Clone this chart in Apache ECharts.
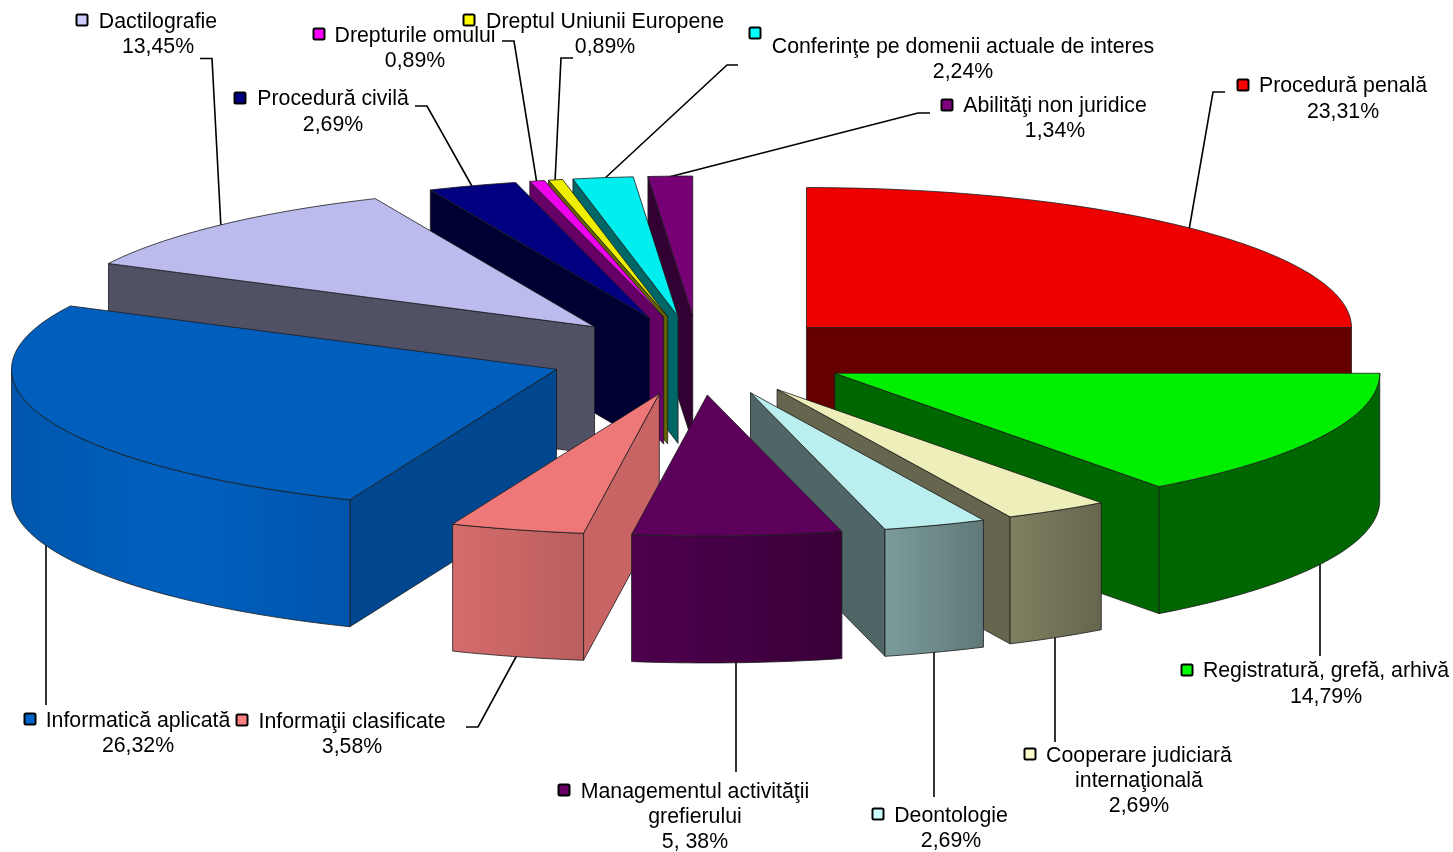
<!DOCTYPE html>
<html><head><meta charset="utf-8">
<style>html,body{margin:0;padding:0;background:#fff}#c{width:1453px;height:852px}</style>
<script src="https://cdn.jsdelivr.net/npm/echarts@6/dist/echarts.min.js"></script>
</head><body><div id="c"></div>
<script>
// ---- data ----
const categories = ['Procedură penală','Registratură, grefă, arhivă','Cooperare judiciară internaţională','Deontologie','Managementul activităţii grefierului','Informaţii clasificate','Informatică aplicată','Dactilografie','Procedură civilă','Drepturile omului','Dreptul Uniunii Europene','Conferinţe pe domenii actuale de interes','Abilităţi non juridice'];
// printed percentages (as typed in the labels)
const printedPercent = ['23,31%','14,79%','2,69%','2,69%','5, 38%','3,58%','26,32%','13,45%','2,69%','0,89%','0,89%','2,24%','1,34%'];
// share of the circle each slice visibly occupies, in percent
const drawnShare = [25.0,14.86,3.11,3.06,6.19,3.97,26.28,10.94,2.64,0.44,0.42,1.78,1.31];

// ---- styling ----
const topColors  = ['#EE0000','#00EE00','#EEEEBB','#BBEEEE','#5C005C','#EE7777','#005EBD','#BBBBEE','#000080','#EE00EE','#EEEE00','#00EEEE','#770077'];
const sideColors = ['#660000','#006600','#66664E','#506666','#330033','#C86464','#00478F','#515166','#000033','#660066','#666600','#006666','#330033'];
const wallGrad   = [['#660000','#660000'],['#006600','#006600'],['#807F60','#66664E'],['#7C9C9C','#607878'],['#4E004E','#390039'],['#D66C6C','#BA5E5E'],['#0056AC','#0060BF','#0054AC'],['#515166','#515166'],['#000033','#000033'],['#660066','#660066'],['#666600','#666600'],['#006666','#006666'],['#330033','#330033']];
const keyColors  = ['#FF0000','#00FF00','#FFFFCC','#CCFFFF','#660066','#FF8080','#0066CC','#CCCCFF','#000080','#FF00FF','#FFFF00','#00FFFF','#800080'];

// ---- layout ----
const PIE = {cx:699, cy:355.5, rx:545, ryBack:140, ryFront:141, depth:127, explodeX:152, explodeY:39.5};
const FONT = '"Liberation Sans", Arial, sans-serif', FS = 21.3, TEXT_DY = 1;
// text lines: [centerX, centerY, text]; key: [x,y]
const labelLayout = [
 {key:[1243,85],  lines:[[1343,85],[1343,111]]},
 {key:[1187,670], lines:[[1326,670],[1326,696]]},
 {key:[1030,754], lines:[[1139,755],[1139,780],[1139,805]], split:['Cooperare judiciară','internaţională']},
 {key:[878,814],  lines:[[951,815],[951,840]]},
 {key:[564,790],  lines:[[695,791],[695,816],[695,841]], split:['Managementul activităţii','grefierului']},
 {key:[242,720],  lines:[[352,721],[352,746]]},
 {key:[30,719],   lines:[[138,720],[138,745]]},
 {key:[82,20],    lines:[[158,21],[158,46]]},
 {key:[240,98],   lines:[[333,98],[333,124]]},
 {key:[319,34],   lines:[[415,35],[415,60]]},
 {key:[469,20],   lines:[[605,21],[605,46]]},
 {key:[755,33],   lines:[[963,46],[963,71]]},
 {key:[947,105],  lines:[[1055,105],[1055,130]]}
];
const leaders = [
 [[1225,92],[1213,92],[1189,230]],
 [[1320,555],[1320,656]],
 [[1055,630],[1055,742]],
 [[934,645],[934,797]],
 [[736,655],[736,772]],
 [[517,655],[478,727],[466,727]],
 [[46,540],[46,705]],
 [[200,58.5],[212,58.5],[221,228]],
 [[415,106],[427,106],[473,188]],
 [[502,41],[514,41],[537,184]],
 [[573,58],[561,58],[555,182]],
 [[738,65],[727,65],[603,180]],
 [[930,113],[918,113],[665,178]]
];

// ---- geometry helpers, all derived from drawnShare ----
const rad = d => d*Math.PI/180;
const total = drawnShare.reduce((a,b)=>a+b,0);
let acc = 0;
const slices = drawnShare.map((v,i)=>{
  const s = acc/total*360; acc += v; const e = acc/total*360;
  return {i, s, e, m:(s+e)/2};
});
function apexOf(m){ return [PIE.cx+PIE.explodeX*Math.sin(rad(m)), PIE.cy-PIE.explodeY*Math.cos(rad(m))]; }
function rimPt(ap,t){
  const c = Math.cos(rad(t));
  return [ap[0]+PIE.rx*Math.sin(rad(t)), ap[1]-(c>0?PIE.ryBack:PIE.ryFront)*c];
}
function arc(ap,a,b){ const n=Math.max(2,Math.ceil((b-a)/1)); const o=[]; for(let k=0;k<=n;k++) o.push(rimPt(ap,a+(b-a)*k/n)); return o; }
const down = p => [p[0],p[1]+PIE.depth];
const EDGE = {stroke:'#1c1c1c', lineWidth:0.8, lineJoin:'round'};
function poly(points, fill){ return {type:'polygon', shape:{points}, style:Object.assign({fill}, EDGE)}; }
function radialWall(ap,t,fill){ const r=rimPt(ap,t); return poly([ap,r,down(r),down(ap)],fill); }

function renderSlice(params, api){
  const idx = api.value(0), sl = slices[idx], ap = apexOf(sl.m), kids = [];
  if (Math.sin(rad(sl.s)) < -1e-6) kids.push(radialWall(ap,sl.s,sideColors[idx]));
  if (Math.sin(rad(sl.e)) >  1e-6) kids.push(radialWall(ap,sl.e,sideColors[idx]));
  const a = Math.max(sl.s,90), b = Math.min(sl.e,270);
  if (b > a + 1e-6) {
    const top = arc(ap,a,b), bot = top.map(down).reverse();
    const g = wallGrad[idx];
    const fill = new echarts.graphic.LinearGradient(0,0,1,0,g.map((c,k)=>({offset:k/(g.length-1),color:c})));
    kids.push(poly(top.concat(bot),fill));
  }
  kids.push(poly([ap].concat(arc(ap,sl.s,sl.e)),topColors[idx]));
  return {type:'group', children:kids};
}

// back-to-front painting
const order = slices.slice().sort((p,q)=>Math.cos(rad(q.m))-Math.cos(rad(p.m)));

// ---- labels, keys and leader lines ----
const graphics = [];
leaders.forEach(pts=>graphics.push({type:'polyline', z:1, shape:{points:pts}, style:{stroke:'#000',lineWidth:1.6,fill:null}}));
labelLayout.forEach((l,i)=>{
  graphics.push({type:'rect', z:3, shape:{x:l.key[0]-5.5,y:l.key[1]-5.5,width:11,height:11,r:1.5}, style:{fill:keyColors[i],stroke:'#000',lineWidth:2}});
  const texts = (l.split || [categories[i]]).concat(printedPercent[i]);
  texts.forEach((t,k)=>graphics.push({type:'text', z:3, x:l.lines[k][0], y:l.lines[k][1]+TEXT_DY,
    style:{text:t, fill:'#000', font:FS+'px '+FONT, textAlign:'center', textVerticalAlign:'middle'}}));
});

const chart = echarts.init(document.getElementById('c'),null,{renderer:'canvas'});
chart.setOption({
  animation:false,
  backgroundColor:'#fff',
  graphic:{elements:graphics},
  series:[{type:'custom', coordinateSystem:'none', z:2, silent:true, renderItem:renderSlice,
    data:order.map(s=>[s.i, drawnShare[s.i]])}]
});
</script></body></html>
